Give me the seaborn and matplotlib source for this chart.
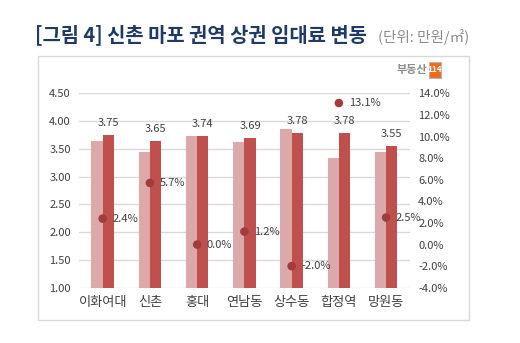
import numpy as np
import pandas as pd
import matplotlib
matplotlib.use("Agg")
import matplotlib.pyplot as plt
import seaborn as sns
from matplotlib.patches import Rectangle

categories = ["이화여대", "신촌", "홍대", "연남동", "상수동", "합정역", "망원동"]
prev_rent = [3.65, 3.45, 3.74, 3.63, 3.85, 3.34, 3.45]
curr_rent = [3.75, 3.65, 3.74, 3.69, 3.78, 3.78, 3.55]
change_pct = [2.4, 5.7, 0.0, 1.2, -2.0, 13.1, 2.5]
left_ticks = [1.00, 1.50, 2.00, 2.50, 3.00, 3.50, 4.00, 4.50]
right_ticks = [-4.0, -2.0, 0.0, 2.0, 4.0, 6.0, 8.0, 10.0, 12.0, 14.0]

sns.set_theme(style="white")
plt.rcParams["font.family"] = ["Noto Sans CJK KR", "DejaVu Sans"]

df = pd.DataFrame({
    "cat": categories * 2,
    "val": prev_rent + curr_rent,
    "series": ["prev"] * len(categories) + ["curr"] * len(categories),
})

fig = plt.figure(figsize=(5.2, 3.43), dpi=100)
ax = fig.add_axes([0.152, 0.161, 0.636, 0.567])

# frame
fig.patches.append(Rectangle((38 / 520, 1 - 320 / 343), (469 - 38) / 520, (320 - 56) / 343,
                             transform=fig.transFigure, fill=False, edgecolor="#D9D9D9", lw=1.0))

sns.barplot(data=df, x="cat", y="val", hue="series", order=categories,
            palette={"prev": "#DBA9A9", "curr": "#C0504D"}, width=0.48, gap=0,
            saturation=1, legend=False, ax=ax, linewidth=0)

ax.set_ylim(1.0, 4.5)
ax.set_yticks(left_ticks)
ax.set_yticklabels([f"{t:.2f}" for t in left_ticks], fontsize=8, color="#404040")
ax.grid(axis="y", color="#D9D9D9", lw=1)
ax.set_axisbelow(True)
for s in ax.spines.values():
    s.set_visible(False)
ax.set_xlabel("")
ax.set_ylabel("")
ax.tick_params(axis="x", labelsize=9.5, colors="#404040", length=0, pad=6)
ax.tick_params(axis="y", length=0, pad=6)
ax.set_xlim(-0.5, len(categories) - 0.5)

# value labels above current bars
curr_container = ax.containers[1]
for bar, v in zip(curr_container, curr_rent):
    ax.annotate(f"{v:.2f}", (bar.get_x() + bar.get_width() / 2, bar.get_height()),
                xytext=(0, 5), textcoords="offset points", ha="center", va="bottom",
                fontsize=8, color="#404040")

ax2 = ax.twinx()
xpos = np.arange(len(categories))
sns.scatterplot(x=xpos, y=change_pct, ax=ax2, color="#A23B3B", s=38, edgecolor="none", zorder=5)
ax2.set_ylim(-4.0, 14.0)
ax2.set_yticks(right_ticks)
ax2.set_yticklabels([f"{t:.1f}%" for t in right_ticks], fontsize=8, color="#404040")
ax2.tick_params(axis="y", length=0, pad=6)
for s in ax2.spines.values():
    s.set_visible(False)
ax2.set_xlim(-0.5, len(categories) - 0.5)
for x, p in zip(xpos, change_pct):
    ax2.annotate(f"{p:.1f}%", (x, p), xytext=(7, 0), textcoords="offset points",
                 ha="left", va="center", fontsize=8, color="#404040")

# title
fig.text(35 / 520, 1 - 35 / 343, "[그림 4] 신촌 마포 권역 상권 임대료 변동", fontsize=14.3,
         fontweight="bold", color="#1F3A68", ha="left", va="center")
fig.text(378 / 520, 1 - 37 / 343, "(단위: 만원/㎡)", fontsize=10.5, color="#8C8C8C",
         ha="left", va="center")

# logo
fig.text(427 / 520, 1 - 69.5 / 343, "부동산", fontsize=8, fontweight="bold", color="#8C8C8C",
         ha="right", va="center")
fig.patches.append(Rectangle((429 / 520, 1 - 78 / 343), 12 / 520, 16 / 343,
                             transform=fig.transFigure, fc="#F26A1B", ec="#B5B5B5", lw=0.8,
                             zorder=5))
fig.text(435 / 520, 1 - 70 / 343, "114", fontsize=6, fontweight="bold", color="white",
         ha="center", va="center", zorder=10)

fig.savefig("out.png", dpi=100)
